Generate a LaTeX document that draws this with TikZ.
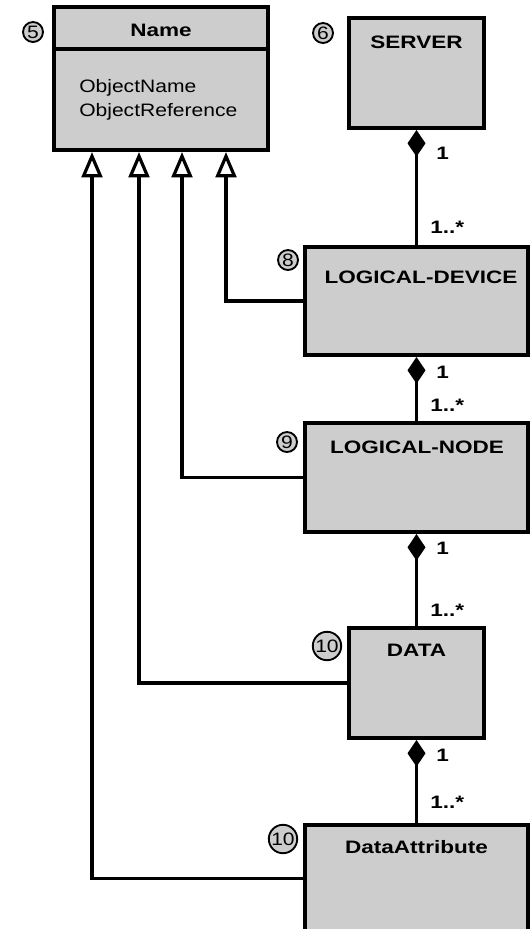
\documentclass[tikz,border=0pt]{standalone}
\usepackage{fontspec}
\setmainfont{Liberation Sans}[FakeStretch=1.17]
\usepackage{xcolor}
\usetikzlibrary{arrows.meta,fit,calc}
\definecolor{boxgray}{RGB}{205,205,205}
\newcommand{\widebf}[1]{\scalebox{1.07}[1]{\bfseries #1}}

\begin{document}
\begin{tikzpicture}[x=0.75pt,y=-0.75pt,
    box/.style={draw, line width=3pt, fill=boxgray, inner sep=0pt},
    title/.style={font=\fontsize{13.5}{16}\selectfont},
    num/.style={draw, circle, line width=1.4pt, fill=boxgray, inner sep=0.5pt, minimum size=15pt, font=\fontsize{13.5}{16}\selectfont},
    mult/.style={font=\fontsize{13.5}{16}\selectfont, anchor=west, inner sep=0pt},
    comp/.style={line width=2.4pt, {Diamond[length=20pt,width=13.5pt]}-},
    gen/.style={line width=2.4pt, -{Triangle[open,fill=white,length=19pt,width=15.5pt]}}]
    \useasboundingbox (0,0) rectangle (532,929);
    \clip (0,0) rectangle (532,929);
    % classes
    \node[box, fit={(54,7) (268,150)}] (name) {};
    \draw[line width=3pt] ($(name.north west)+(0,44)$) -- ($(name.north east)+(0,44)$);
    \node[title] (nametitle) at (161,30) {\widebf{Name}};
    \node[font=\fontsize{13.5}{18}\selectfont, align=left, anchor=west, inner sep=0pt] (nameattr) at (79,100) {ObjectName\\ObjectReference};
    \node[box, fit={(349,18) (484,128)}] (server) {};
    \node[title] (servertitle) at (416.5,42) {\widebf{SERVER}};
    \node[box, fit={(305,247) (528,355)}] (ldev) {};
    \node[title] (ldevtitle) at (421,277) {\widebf{LOGICAL-DEVICE}};
    \node[box, fit={(305,423) (528,532)}] (lnode) {};
    \node[title] (lnodetitle) at (417,447) {\widebf{LOGICAL-NODE}};
    \node[box, fit={(349,628) (484,738)}] (data) {};
    \node[title] (datatitle) at (416.5,650) {\widebf{DATA}};
    \node[box, fit={(305,825) (528,932)}] (dattr) {};
    \node[title] (dattrtitle) at (416.5,847) {\widebf{DataAttribute}};
    % numbers
    \node[num] (n5) at (33,32) {5};
    \node[num] (n6) at (323,33) {6};
    \node[num] (n8) at (288,260) {8};
    \node[num] (n9) at (287,442) {9};
    \node[num] (n10a) at (327,646) {10};
    \node[num] (n10b) at (283,839) {10};
    % composition
    \draw[comp] (server.south) -- (ldev.north);
    \draw[comp] (ldev.south) -- (lnode.north);
    \draw[comp] (lnode.south) -- (data.north);
    \draw[comp] (data.south) -- (dattr.north);
    \node[mult] (m1) at (436,153) {\widebf{1}};
    \node[mult] (m2) at (430,227) {\widebf{1..*}};
    \node[mult] (m3) at (436,372) {\widebf{1}};
    \node[mult] (m4) at (430,405) {\widebf{1..*}};
    \node[mult] (m5) at (436,548) {\widebf{1}};
    \node[mult] (m6) at (430,610) {\widebf{1..*}};
    \node[mult] (m7) at (436,755) {\widebf{1}};
    \node[mult] (m8) at (430,802) {\widebf{1..*}};
    % inheritance
    \draw[gen] (ldev.west) -| ($(name.south)+(65,0)$);
    \draw[gen] (lnode.west) -| ($(name.south)+(21,0)$);
    \draw[gen] (data.west) -| ($(name.south)+(-22,0)$);
    \draw[gen] (dattr.west) -| ($(name.south)+(-69,0)$);
\end{tikzpicture}
\end{document}
